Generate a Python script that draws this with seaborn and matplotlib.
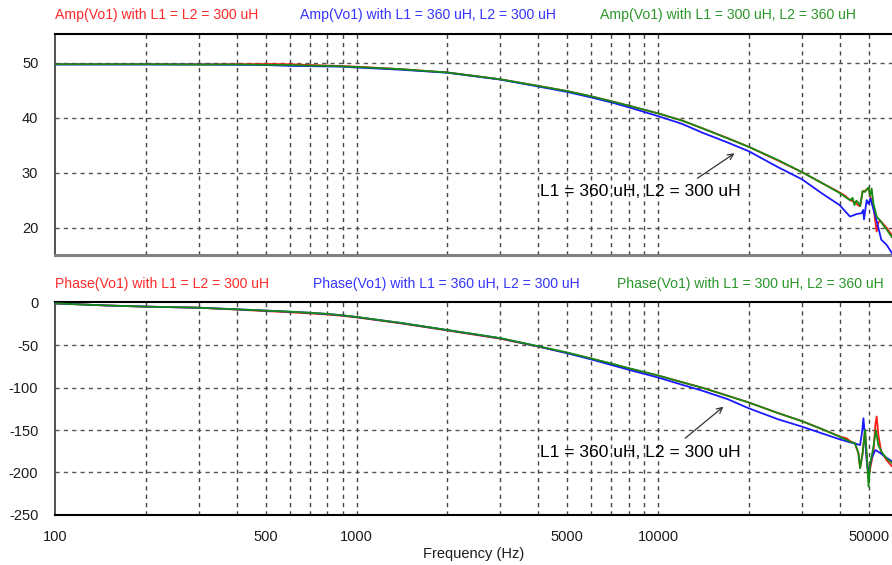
import numpy as np
import pandas as pd
import matplotlib
matplotlib.use("Agg")
import matplotlib.pyplot as plt
from matplotlib.ticker import FixedLocator, NullFormatter, NullLocator
import seaborn as sns

# ---------------- data ----------------
# Common frequency grid for the smooth part of the response (Hz)
freq_base = [100, 150, 200, 300, 400, 500, 600, 700, 800, 900, 1000, 1400, 2000,
             3000, 4000, 5000, 6000, 7000, 8000, 10000, 12000, 14000, 17000,
             20000, 25000, 30000, 35000, 40000]

# Amplitude (dB) on the common grid
amp_red_base = [49.75, 49.75, 49.75, 49.72, 49.75, 49.8, 49.75, 49.6, 49.5, 49.4,
                49.3, 48.85, 48.25, 47.0, 45.8, 44.85, 43.9, 43.0, 42.2, 40.8,
                39.5, 38.1, 36.3, 34.7, 32.2, 30.1, 28.1, 26.4]
amp_blue_base = [49.7, 49.7, 49.7, 49.7, 49.65, 49.6, 49.45, 49.4, 49.35, 49.3,
                 49.15, 48.75, 48.2, 46.95, 45.7, 44.7, 43.7, 42.8, 41.9, 40.3,
                 38.9, 37.3, 35.5, 33.9, 31.0, 28.8, 26.2, 24.1]
amp_green_base = [49.75, 49.75, 49.75, 49.7, 49.7, 49.65, 49.6, 49.5, 49.45, 49.35,
                  49.25, 48.85, 48.25, 47.0, 45.8, 44.85, 43.9, 43.0, 42.2, 40.8,
                  39.5, 38.1, 36.25, 34.7, 32.3, 30.1, 28.1, 26.3]

# Amplitude around the output-filter resonance
amp_red_res_f = [41700, 43300, 45000, 46200, 46800, 47700, 48600, 49900, 50500,
                 51800, 52500, 53100, 53700, 54500, 57400, 59700]
amp_red_res = [25.8, 25.0, 24.6, 24.0, 23.9, 26.6, 26.7, 27.2, 25.8,
               23.8, 21.3, 19.3, 20.8, 21.3, 19.9, 18.6]
amp_blue_res_f = [41700, 43300, 45800, 47300, 47900, 48200, 49200, 49900, 50600,
                  51400, 53000, 55000, 57400, 59700]
amp_blue_res = [23.0, 22.0, 22.5, 22.6, 23.2, 21.5, 25.0, 24.3, 25.3,
                24.0, 21.4, 17.8, 16.8, 15.3]
amp_green_res_f = [41700, 43300, 44200, 44800, 45500, 46200, 46800, 47700, 48600,
                   49300, 49900, 50500, 51100, 51800, 53100, 54500, 55900, 57400, 59700]
amp_green_res = [25.6, 25.0, 25.4, 24.1, 24.9, 24.5, 23.9, 26.6, 26.5,
                 27.0, 27.3, 25.8, 27.1, 24.4, 22.0, 21.3, 20.4, 19.6, 18.2]

# Phase (deg) on the common grid
ph_red_base = [-0.5, -3.0, -4.3, -5.6, -7.8, -9.6, -11.0, -12.3, -13.6, -15.2,
               -17.0, -24.0, -32.4, -42.2, -51.5, -59.0, -65.8, -71.8, -77.3, -85.7,
               -93.5, -100.0, -109.5, -117.5, -130.0, -139.5, -149.0, -157.5]
ph_blue_base = [-0.5, -3.0, -4.3, -5.6, -7.5, -9.0, -10.3, -11.6, -13.0, -14.7,
                -16.6, -23.6, -32.0, -41.7, -51.3, -59.4, -66.6, -73.2, -78.9, -88.0,
                -96.5, -103.5, -113.5, -124.4, -137.3, -146.0, -154.0, -160.9]
ph_green_base = [-0.5, -3.0, -4.3, -5.6, -7.5, -9.0, -10.3, -11.5, -12.9, -14.6,
                 -16.5, -23.5, -31.9, -41.5, -51.0, -58.5, -65.5, -71.5, -77.0, -85.5,
                 -93.5, -100.0, -109.5, -117.5, -130.0, -139.5, -149.0, -157.8]

# Phase around the resonance
ph_red_res_f = [42300, 43300, 45000, 46200, 46800, 47700, 48600, 49200, 49900,
                50500, 51800, 52600, 53100, 53800, 55000, 57400, 59700]
ph_red_res = [-160.0, -163.0, -166.0, -177.5, -195.0, -177.5, -150.0, -182.0, -206.0,
              -196.0, -176.0, -143.0, -134.0, -156.0, -176.0, -186.0, -193.0]
ph_blue_res_f = [43300, 45000, 46800, 47600, 48000, 48600, 49200, 49900, 51100,
                 52600, 54500, 57400, 59700]
ph_blue_res = [-164.5, -166.0, -167.7, -150.0, -136.2, -158.0, -186.0, -201.0, -183.0,
               -173.6, -177.0, -183.0, -187.0]
ph_green_res_f = [43300, 45000, 46200, 46800, 47700, 48600, 49200, 49900, 50500,
                  51800, 52800, 53800, 55400, 57400, 59700]
ph_green_res = [-163.7, -165.7, -177.5, -195.0, -177.5, -150.0, -178.0, -216.8, -191.0,
                -169.6, -150.0, -168.0, -177.0, -184.0, -189.0]

series_names = ["L1 = L2 = 300 uH", "L1 = 360 uH, L2 = 300 uH", "L1 = 300 uH, L2 = 360 uH"]
series_colors = ["#ff1a1a", "#1a1aff", "#148c14"]
title_colors = ["#ff2a2a", "#3535ff", "#2a962a"]

x_ticks = [100, 500, 1000, 5000, 10000, 50000]
amp_ticks = [20, 30, 40, 50]
phase_ticks = [0, -50, -100, -150, -200, -250]

annotation_text = "L1 = 360 uH, L2 = 300 uH"

# ---------------- figure ----------------
sns.set_style("white")
plt.rcParams["font.family"] = ["Liberation Sans", "DejaVu Sans"]
plt.rcParams["axes.unicode_minus"] = False

W, H = 892, 565
fig = plt.figure(figsize=(W / 100, H / 100), dpi=100)


def px_axes(left, top, right, bottom):
    return fig.add_axes([left / W, 1 - bottom / H, (right - left) / W, (bottom - top) / H])


ax_amp = px_axes(55, 34.3, 892, 255)
ax_ph = px_axes(55, 302.3, 892, 514.7)


def build(base_f, base_v, res_f, res_v):
    f = list(base_f) + list(res_f)
    v = list(base_v) + list(res_v)
    return pd.DataFrame({"freq": f, "value": v})


amp_sets = [
    build(freq_base, amp_red_base, amp_red_res_f, amp_red_res),
    build(freq_base, amp_blue_base, amp_blue_res_f, amp_blue_res),
    build(freq_base, amp_green_base, amp_green_res_f, amp_green_res),
]
ph_sets = [
    build(freq_base, ph_red_base, ph_red_res_f, ph_red_res),
    build(freq_base, ph_blue_base, ph_blue_res_f, ph_blue_res),
    build(freq_base, ph_green_base, ph_green_res_f, ph_green_res),
]

for ax, sets in ((ax_amp, amp_sets), (ax_ph, ph_sets)):
    for df, col in zip(sets, series_colors):
        sns.lineplot(data=df, x="freq", y="value", color=col, lw=1.3,
                     estimator=None, sort=False, ax=ax, zorder=3)

minor_grid = [m * 10 ** e for e in (2, 3, 4) for m in range(2, 11)]
minor_grid = [g for g in minor_grid if g < 59700]

TICK_FS = 10.5
for ax, ylim, yt in ((ax_amp, (15, 55.2), amp_ticks), (ax_ph, (-250, 0.8), phase_ticks)):
    ax.set_xscale("log")
    ax.set_xlim(100, 59700)
    ax.set_ylim(*ylim)
    ax.set_xlabel("")
    ax.set_ylabel("")
    ax.xaxis.set_major_locator(FixedLocator(x_ticks))
    ax.xaxis.set_minor_locator(NullLocator())
    ax.yaxis.set_major_locator(FixedLocator(yt))
    for g in minor_grid:
        ax.axvline(g, color="#444444", lw=1.0, ls=(0, (3, 3)), zorder=1)
    for t in yt:
        if ylim[0] < t < ylim[1] - 1:
            ax.axhline(t, color="#555555", lw=1.0, ls=(0, (3, 3)), zorder=1)
    ax.tick_params(axis="both", length=0, labelsize=TICK_FS, colors="#1c1c1c")
    ax.tick_params(axis="y", pad=12)
    ax.spines["right"].set_visible(False)
    ax.spines["top"].set_color("black")
    ax.spines["top"].set_linewidth(1.5)
    ax.spines["left"].set_color("#333333")
    ax.spines["left"].set_linewidth(1.2)

ax_amp.spines["bottom"].set_color("#808080")
ax_amp.spines["bottom"].set_linewidth(2.2)
ax_amp.xaxis.set_major_formatter(NullFormatter())
ax_ph.spines["bottom"].set_color("black")
ax_ph.spines["bottom"].set_linewidth(1.5)
ax_ph.set_xticklabels([str(t) for t in x_ticks])
ax_ph.tick_params(axis="x", pad=11)
ax_ph.set_xlabel("Frequency (Hz)", fontsize=TICK_FS, color="#1c1c1c", labelpad=2)

# Panel headers
amp_titles = [f"Amp(Vo1) with {n}" for n in series_names]
ph_titles = [f"Phase(Vo1) with {n}" for n in series_names]
for txt, xpx, col in zip(amp_titles, (55, 300, 600), title_colors):
    fig.text(xpx / W, 1 - 15 / H, txt, color=col, fontsize=10.1, ha="left", va="center")
for txt, xpx, col in zip(ph_titles, (55, 313, 617), title_colors):
    fig.text(xpx / W, 1 - 284 / H, txt, color=col, fontsize=10.1, ha="left", va="center")

# Callouts pointing at the L1 = 360 uH curve
ax_amp.text(4060, 26.5, annotation_text, fontsize=12.6, color="black", ha="left", va="center", zorder=5)
ax_amp.annotate("", xy=(18250, 33.8), xytext=(13280, 28.7),
                arrowprops=dict(arrowstyle="->", color="#333333", lw=0.9), zorder=5)
ax_ph.text(4060, -177, annotation_text, fontsize=12.6, color="black", ha="left", va="center", zorder=5)
ax_ph.annotate("", xy=(16750, -120.4), xytext=(12110, -161.7),
               arrowprops=dict(arrowstyle="->", color="#333333", lw=0.9), zorder=5)

fig.savefig("out.png", dpi=100)
